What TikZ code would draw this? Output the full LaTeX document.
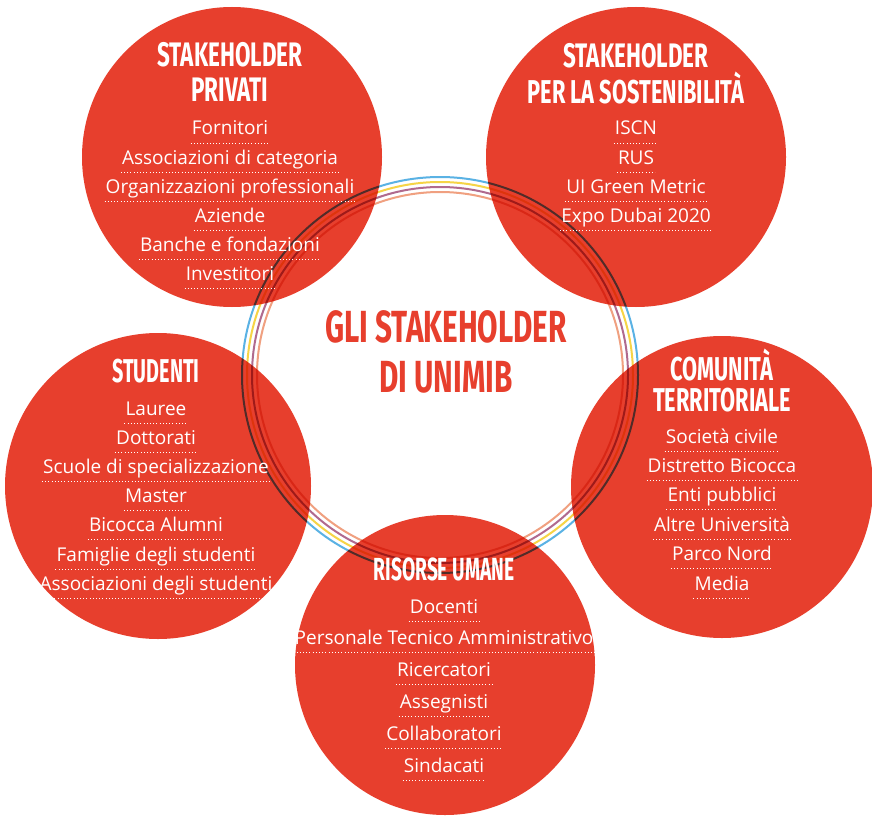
\documentclass[tikz,border=0pt]{standalone}
\usepackage{fontspec}
\setmainfont{Open Sans}
\newfontfamily\titlefont[FakeStretch=0.66]{Fira Sans}
\newfontfamily\titlefontstretto[FakeStretch=0.6]{Fira Sans}
\definecolor{rosso}{RGB}{231,63,45}
\definecolor{azzurro}{RGB}{90,178,228}
\definecolor{giallo}{RGB}{246,212,70}
\definecolor{viola}{RGB}{176,106,142}
\definecolor{arancio}{RGB}{240,160,128}

\begin{document}
\begin{tikzpicture}[x=1pt, y=-1pt,
    cerchio/.style={fill=rosso},
    anello/.style={line width=2pt},
    titolo/.style={font=\titlefont\bfseries\fontsize{33}{35}\selectfont, text=white, anchor=base, inner sep=0pt},
    centro/.style={font=\titlefont\bfseries\fontsize{45}{47}\selectfont, text=rosso, anchor=base, inner sep=0pt},
    voce/.style={font=\fontsize{19}{21}\selectfont, text=white, anchor=base, inner xsep=1pt, inner ysep=0pt},
    puntini/.style={white, line width=1pt, dash pattern=on 1pt off 2.2pt}]
    \fill[white] (0,0) rectangle (872,824);
    \useasboundingbox (0,0) rectangle (872,824);

    % cerchi
    \fill[cerchio] (232,157) circle[radius=150pt];
    \fill[cerchio] (636,157) circle[radius=150pt];
    \fill[cerchio] (158,486) circle[radius=153pt];
    \fill[cerchio] (722,487) circle[radius=151pt];
    \fill[cerchio] (445,665) circle[radius=150pt];

    % anello centrale
    \begin{scope}[blend mode=multiply]
        \draw[anello, azzurro] (440,375) circle[radius=198pt];
        \draw[anello, giallo]  (440,375) circle[radius=193pt];
        \draw[anello, viola]   (440,375) circle[radius=188pt];
        \draw[anello, arancio] (440,375) circle[radius=183pt];
    \end{scope}

    \node[centro] (centro-1) at (446,342) {GLI STAKEHOLDER};
    \node[centro] (centro-2) at (446,392) {DI UNIMIB};

    % stakeholder privati
    \node[titolo, font=\titlefont\bfseries\fontsize{34}{36}\selectfont] (tl-t1) at (230,67) {STAKEHOLDER};
    \node[titolo, font=\titlefont\bfseries\fontsize{34}{36}\selectfont] (tl-t2) at (230,102) {PRIVATI};
    \foreach \t [count=\i from 0] in {Fornitori, Associazioni di categoria, Organizzazioni professionali,
                                      Aziende, Banche e fondazioni, Investitori} {
        \node[voce] (tl-\i) at (230,{135+29*\i}) {\t};
        \draw[puntini] ([yshift=-8pt]tl-\i.base west) -- ([yshift=-8pt]tl-\i.base east);
    }

    % stakeholder per la sostenibilita
    \node[titolo, font=\titlefont\bfseries\fontsize{34}{36}\selectfont] (tr-t1) at (636,68) {STAKEHOLDER};
    \node[titolo] (tr-t2) at (636,103) {PER LA SOSTENIBILITÀ};
    \foreach \t [count=\i from 0] in {ISCN, RUS, UI Green Metric, Expo Dubai 2020} {
        \node[voce] (tr-\i) at (636,{135+29.3*\i}) {\t};
        \draw[puntini] ([yshift=-8pt]tr-\i.base west) -- ([yshift=-8pt]tr-\i.base east);
    }

    % studenti
    \node[titolo, font=\titlefontstretto\bfseries\fontsize{33}{35}\selectfont] (sx-t1) at (156,382) {STUDENTI};
    \foreach \t [count=\i from 0] in {Lauree, Dottorati, Scuole di specializzazione, Master,
                                      Bicocca Alumni, Famiglie degli studenti, Associazioni degli studenti} {
        \node[voce] (sx-\i) at (156,{415+29.2*\i}) {\t};
        \draw[puntini] ([yshift=-8pt]sx-\i.base west) -- ([yshift=-8pt]sx-\i.base east);
    }

    % comunita territoriale
    \node[titolo] (dx-t1) at (722,380) {COMUNITÀ};
    \node[titolo] (dx-t2) at (722,411) {TERRITORIALE};
    \foreach \t [count=\i from 0] in {Società civile, Distretto Bicocca, Enti pubblici,
                                      Altre Università, Parco Nord, Media} {
        \node[voce] (dx-\i) at (722,{443+29.4*\i}) {\t};
        \draw[puntini] ([yshift=-8pt]dx-\i.base west) -- ([yshift=-8pt]dx-\i.base east);
    }

    % risorse umane
    \node[titolo, font=\titlefontstretto\bfseries\fontsize{32}{34}\selectfont] (giu-t1) at (444,580) {RISORSE UMANE};
    \foreach \t [count=\i from 0] in {Docenti, Personale Tecnico Amministrativo, Ricercatori,
                                      Assegnisti, Collaboratori, Sindacati} {
        \node[voce] (giu-\i) at (444,{613+31.8*\i}) {\t};
        \draw[puntini] ([yshift=-8pt]giu-\i.base west) -- ([yshift=-8pt]giu-\i.base east);
    }
\end{tikzpicture}
\end{document}
